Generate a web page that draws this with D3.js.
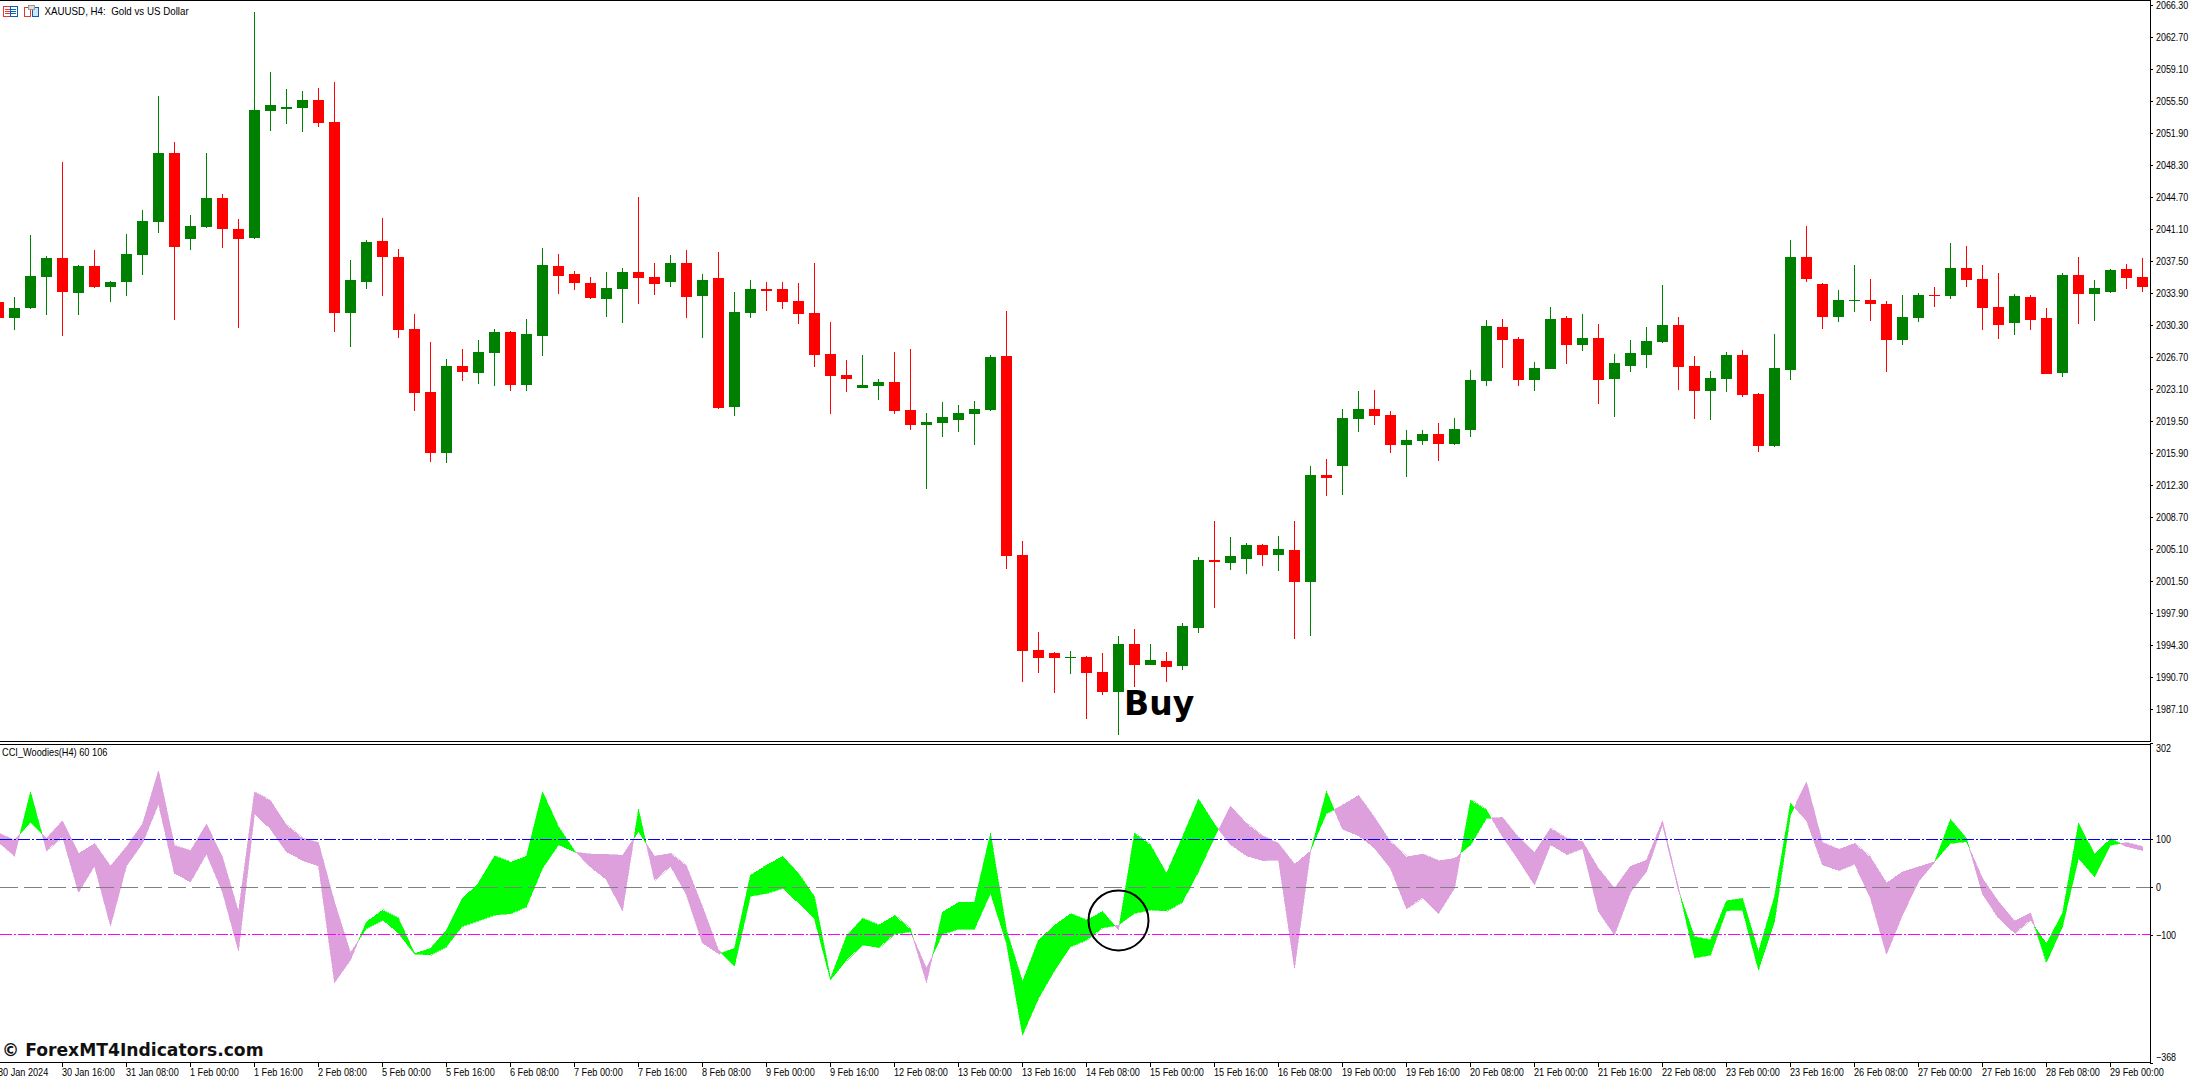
<!DOCTYPE html>
<html>
<head>
<meta charset="utf-8">
<script src="https://cdn.jsdelivr.net/npm/d3@7"></script>
<style>
  html, body { margin: 0; padding: 0; background: #fff; overflow: hidden; }
  text { font-family: "Liberation Sans", sans-serif; font-size: 10.5px; fill: #000; white-space: pre; }
  .crisp { shape-rendering: crispEdges; }
</style>
</head>
<body>
<svg id="chart" width="2190" height="1080"></svg>
<script>
var openP = [
  2032.92,2031.12,2032.25,2035.74,2037.87,2033.94,2036.97,2034.61,2035.17,2038.21,
  2041.92,2049.69,2040.01,2041.36,2044.62,2041.14,2040.12,2054.41,2054.64,2054.75,
  2055.65,2053.17,2031.69,2035.17,2039.79,2037.99,2029.89,2022.80,2015.94,2025.72,
  2024.94,2027.19,2029.55,2023.59,2029.10,2036.97,2036.07,2035.06,2033.26,2034.39,
  2036.30,2035.74,2035.17,2037.31,2033.60,2035.62,2021.10,2031.70,2034.40,2034.40,
  2033.03,2031.70,2027.08,2024.71,2023.27,2023.47,2023.91,2020.77,2019.09,2019.33,
  2019.65,2020.33,2020.77,2026.84,2004.46,1993.77,1993.45,1992.89,1992.97,1991.28,
  1989.03,1994.46,1992.09,1992.53,1991.96,1996.26,2003.90,2003.58,2004.02,2005.59,
  2004.46,2005.02,2001.41,2013.46,2014.47,2019.77,2020.89,2020.21,2016.84,2017.28,
  2018.08,2016.96,2018.52,2024.04,2030.11,2028.76,2024.15,2025.39,2031.12,2028.09,
  2028.87,2024.26,2025.72,2026.96,2028.42,2030.34,2025.72,2022.91,2024.26,2026.96,
  2022.57,2016.72,2025.27,2037.99,2034.95,2031.24,2033.04,2033.15,2032.70,2028.65,
  2031.12,2033.71,2033.60,2036.75,2035.51,2032.36,2030.56,2033.49,2031.12,2024.94,
  2035.96,2033.82,2034.05,2036.64,2035.74
];
var highP = [
  2032.92,2033.49,2040.46,2038.10,2048.67,2037.09,2038.77,2035.29,2040.57,2043.27,
  2056.10,2050.92,2042.71,2049.69,2045.07,2042.26,2065.55,2058.80,2056.89,2056.66,
  2057.00,2057.67,2037.65,2039.90,2042.37,2038.89,2031.57,2028.42,2026.51,2027.64,
  2028.65,2029.89,2029.66,2031.01,2039.00,2038.32,2036.41,2035.74,2036.30,2036.75,
  2044.74,2037.31,2038.21,2038.77,2036.07,2038.55,2034.03,2035.40,2035.16,2035.16,
  2035.08,2037.33,2030.66,2026.40,2026.96,2024.27,2027.28,2027.65,2020.45,2021.66,
  2021.34,2021.78,2026.96,2031.90,2006.03,1995.78,1993.53,1993.65,1993.09,1993.45,
  1995.34,1996.14,1994.46,1993.53,1996.83,2004.22,2008.28,2006.47,2005.83,2005.71,
  2006.59,2008.28,2014.47,2015.27,2020.89,2022.90,2023.02,2020.65,2018.52,2018.52,
  2019.33,2019.89,2025.27,2030.90,2031.01,2028.99,2026.17,2032.36,2031.35,2031.57,
  2030.45,2027.07,2028.65,2030.11,2034.84,2031.24,2026.85,2025.16,2027.30,2027.52,
  2022.69,2029.32,2039.90,2041.47,2035.06,2034.27,2037.09,2035.51,2033.04,2033.71,
  2033.94,2034.61,2039.56,2039.22,2037.09,2036.19,2033.82,2033.71,2032.25,2036.19,
  2037.99,2035.40,2036.64,2037.20,2037.87
];
var lowP = [
  2031.12,2029.77,2032.14,2031.46,2029.10,2031.46,2034.50,2032.92,2033.60,2035.96,
  2040.69,2030.90,2038.77,2041.25,2039.00,2030.00,2040.01,2052.16,2052.95,2052.05,
  2052.61,2029.55,2027.86,2034.39,2033.60,2028.87,2020.66,2014.92,2014.81,2024.04,
  2023.70,2023.47,2022.91,2022.91,2026.85,2033.82,2034.27,2033.26,2031.24,2030.56,
  2032.70,2033.71,2034.61,2031.12,2028.87,2020.89,2020.09,2031.14,2031.90,2032.15,
  2030.46,2025.60,2020.33,2022.78,2023.27,2021.90,2020.33,2018.52,2011.89,2017.72,
  2018.28,2016.84,2020.65,2002.89,1990.16,1991.20,1988.95,1991.08,1986.02,1988.71,
  1984.25,1989.59,1992.09,1990.16,1991.52,1995.70,1998.51,2002.77,2002.33,2003.22,
  2002.65,1995.02,1995.34,2011.09,2011.21,2018.28,2019.09,2015.95,2013.22,2016.84,
  2015.03,2016.84,2017.74,2023.47,2025.50,2023.47,2022.91,2025.39,2025.95,2027.41,
  2021.45,2019.99,2025.05,2025.50,2028.31,2023.02,2019.76,2019.65,2022.80,2022.24,
  2016.05,2016.61,2024.15,2035.17,2029.89,2030.67,2031.80,2030.79,2025.05,2028.09,
  2030.67,2032.36,2033.26,2034.61,2029.77,2028.76,2029.21,2029.77,2024.82,2024.49,
  2030.45,2030.79,2033.94,2034.39,2034.05
];
var closeP = [
  2031.12,2032.25,2035.85,2037.87,2034.05,2036.97,2034.61,2035.17,2038.32,2042.04,
  2049.69,2039.11,2041.47,2044.62,2041.14,2040.01,2054.52,2055.09,2054.86,2055.65,
  2053.06,2031.69,2035.40,2039.67,2037.99,2029.77,2022.69,2015.94,2025.72,2025.05,
  2027.30,2029.55,2023.59,2029.32,2037.09,2035.85,2035.06,2033.37,2034.50,2036.30,
  2035.62,2034.95,2037.31,2033.49,2035.40,2021.00,2031.78,2034.40,2034.15,2032.91,
  2031.58,2026.96,2024.59,2024.27,2023.59,2023.91,2020.65,2019.09,2019.41,2019.97,
  2020.45,2020.89,2026.72,2004.34,1993.65,1992.89,1992.89,1992.97,1991.20,1989.03,
  1994.46,1992.09,1992.65,1991.84,1996.47,2003.90,2003.66,2004.34,2005.59,2004.46,
  2005.14,2001.41,2013.46,2013.14,2019.89,2020.89,2020.09,2016.84,2017.40,2018.08,
  2016.96,2018.64,2024.15,2030.22,2028.65,2024.15,2025.50,2031.01,2028.09,2028.87,
  2024.15,2026.06,2027.19,2028.54,2030.34,2025.61,2022.91,2024.37,2026.96,2022.46,
  2016.72,2025.50,2037.99,2035.51,2031.24,2033.15,2033.15,2032.70,2028.65,2031.24,
  2033.71,2033.60,2036.75,2035.40,2032.25,2030.34,2033.60,2030.90,2024.82,2035.96,
  2033.82,2034.50,2036.52,2035.62,2034.61
];

var cciFast = [
  93.7,65.0,199.9,76.2,105.5,-11.2,44.0,-81.8,44.0,91.6,
  174.1,27.3,10.5,69.2,-10.5,-134.2,153.1,120.9,73.4,55.2,
  44.0,-200.6,-153.1,-72.7,-48.2,-65.7,-139.1,-128.6,-90.2,-23.8,
  9.1,65.0,52.4,65.0,199.9,126.5,76.2,41.2,14.7,-50.3,
  162.9,14.0,44.0,-16.8,-118.1,-140.5,-128.6,25.2,46.1,65.0,
  28.7,-20.3,-191.5,-102.8,-65.7,-79.7,-59.4,-88.8,-200.6,-52.4,
  -31.5,-31.5,112.5,-90.2,-198.5,-111.1,-79.7,-55.9,-69.2,-51.0,
  -90.2,112.5,88.1,28.7,105.5,184.5,132.1,88.1,65.0,55.2,
  56.6,-170.6,74.1,200.6,120.9,106.9,81.1,39.1,-45.4,-22.4,
  -55.9,-2.8,182.4,161.5,105.5,56.6,4.2,88.1,67.8,81.1,
  -51.7,-100.7,-11.2,32.2,130.0,-7.7,-104.2,-111.1,-28.7,-23.8,
  -135.6,-20.3,175.4,139.1,46.1,34.3,48.2,-23.8,-141.2,-58.7,
  11.2,51.7,141.9,102.1,-14.7,-65.7,-97.2,-69.2,-118.1,-55.2,
  133.5,69.2,101.4,84.6,76.2
];
var cciSlow = [
  113.2,98.6,135.6,102.1,139.1,70.6,91.6,44.0,84.6,132.1,
  244.0,86.7,76.2,132.1,62.2,-51.7,199.2,181.0,130.0,102.1,
  93.0,-31.5,-137.7,-86.7,-69.2,-97.2,-140.5,-142.6,-125.1,-81.8,
  -70.6,-58.7,-55.9,-41.2,39.1,88.1,73.4,69.2,68.5,66.4,
  116.0,65.0,70.6,44.0,-41.2,-132.1,-165.7,-18.9,-13.3,-2.8,
  -34.3,-67.1,-195.0,-153.1,-121.6,-127.2,-98.6,-93.7,-170.6,-98.6,
  -88.1,-88.1,-13.3,-118.1,-310.4,-233.5,-175.4,-125.1,-111.1,-85.3,
  -79.7,-55.2,-48.2,-50.3,-31.5,32.2,104.2,169.9,133.5,106.9,
  91.6,48.2,76.2,154.5,172.0,192.9,146.1,95.1,63.6,69.2,
  55.2,60.1,88.1,144.0,146.1,104.2,72.7,123.0,102.1,95.1,
  39.1,-2.8,44.0,56.6,138.4,-0.7,-148.2,-142.6,-49.6,-48.2,
  -174.1,-72.7,151.0,220.9,93.0,79.0,91.6,62.2,9.1,32.2,
  42.6,53.1,91.6,95.1,18.2,-30.8,-70.6,-53.8,-158.0,-83.2,
  60.1,21.7,88.1,93.0,84.6
];

var priceTicks = [2066.30,2062.70,2059.10,2055.50,2051.90,2048.30,2044.70,2041.10,2037.50,2033.90,2030.30,2026.70,
  2023.10,2019.50,2015.90,2012.30,2008.70,2005.10,2001.50,1997.90,1994.30,1990.70,1987.10];
var cciTicks = [302,100,0,-100,-368];
var timeLabels = ["30 Jan 2024","30 Jan 16:00","31 Jan 08:00","1 Feb 00:00","1 Feb 16:00","2 Feb 08:00","5 Feb 00:00",
  "5 Feb 16:00","6 Feb 08:00","7 Feb 00:00","7 Feb 16:00","8 Feb 08:00","9 Feb 00:00","9 Feb 16:00","12 Feb 08:00",
  "13 Feb 00:00","13 Feb 16:00","14 Feb 08:00","15 Feb 00:00","15 Feb 16:00","16 Feb 08:00","19 Feb 00:00","19 Feb 16:00",
  "20 Feb 08:00","21 Feb 00:00","21 Feb 16:00","22 Feb 08:00","23 Feb 00:00","23 Feb 16:00","26 Feb 08:00","27 Feb 00:00",
  "27 Feb 16:00","28 Feb 08:00","29 Feb 00:00"];
var levels = [
  {v: 100, color: "#0000ff", dash: "12,2,2,2"},
  {v: 0, color: "#808080", dash: "18,6"},
  {v: -100, color: "#ff00ff", dash: "12,2,2,2"}
];
var labelStep = 4; // a time label every 4 bars

var svg = d3.select("#chart");
var plotRight = 2150;

var x = d3.scaleLinear().domain([0, 134]).range([-1.5, 2142.5]);
var y = d3.scaleLinear().domain([2066.3, 1987.1]).range([5.3, 709.3]);
var yCci = d3.scaleLinear().domain([302, -368]).range([743, 1062.5]);

// terminal font is narrower than Liberation, squeeze text about its left edge
function narrow(sel, ratio) {
  sel.each(function () {
    var x0 = +this.getAttribute("x") || 0;
    this.setAttribute("transform", "translate(" + x0 * (1 - ratio) + ",0) scale(" + ratio + ",1)");
  });
}

// candles
var bars = d3.range(openP.length);
var candles = svg.append("g").attr("class", "crisp").selectAll("g").data(bars).join("g")
  .attr("fill", function (i) { return closeP[i] >= openP[i] ? "#008000" : "#ff0000"; });
candles.append("rect")
  .attr("x", function (i) { return x(i) - 0.5; })
  .attr("width", 1)
  .attr("y", function (i) { return y(highP[i]); })
  .attr("height", function (i) { return y(lowP[i]) - y(highP[i]); });
candles.append("rect")
  .attr("x", function (i) { return x(i) - 5.5; })
  .attr("width", 11)
  .attr("y", function (i) { return y(Math.max(openP[i], closeP[i])); })
  .attr("height", function (i) { return Math.max(1, Math.abs(y(openP[i]) - y(closeP[i]))); });

// CCI band, split where the fast and slow lines cross
var runs = [];
var run = null;
bars.forEach(function (i) {
  var up = cciFast[i] >= cciSlow[i];
  if (run && run.up !== up) {
    var d0 = cciFast[i - 1] - cciSlow[i - 1];
    var d1 = cciFast[i] - cciSlow[i];
    var t = d0 / (d0 - d1);
    var cross = {i: i - 1 + t, a: cciFast[i - 1] + t * (cciFast[i] - cciFast[i - 1])};
    cross.b = cross.a;
    run.pts.push(cross);
    runs.push(run);
    run = {up: up, pts: [cross]};
  }
  if (!run) run = {up: up, pts: []};
  run.pts.push({i: i, a: cciFast[i], b: cciSlow[i]});
});
runs.push(run);

var band = d3.area()
  .x(function (d) { return x(d.i); })
  .y0(function (d) { return yCci(d.a); })
  .y1(function (d) { return yCci(d.b); });

svg.append("g").attr("class", "crisp").selectAll("path").data(runs).join("path")
  .attr("fill", function (d) { return d.up ? "#00ff00" : "#dda0dd"; })
  .attr("stroke", function (d) { return d.up ? "#00ff00" : "#dda0dd"; })
  .attr("stroke-width", 0.6)
  .attr("d", function (d) { return band(d.pts); });

// level lines, snapped to a pixel row so the dashes stay solid
function levelY(d) { return Math.floor(yCci(d.v)) + 0.5; }
svg.append("g").selectAll("line").data(levels).join("line")
  .attr("x1", 0)
  .attr("x2", plotRight)
  .attr("y1", levelY)
  .attr("y2", levelY)
  .attr("stroke", function (d) { return d.color; })
  .attr("stroke-dasharray", function (d) { return d.dash; });

// frame
var frame = svg.append("g").attr("class", "crisp").attr("stroke", "#000");
frame.append("line").attr("x1", 0).attr("x2", plotRight + 0.5).attr("y1", 0.5).attr("y2", 0.5);
frame.append("line").attr("x1", 0).attr("x2", plotRight + 0.5).attr("y1", 741.5).attr("y2", 741.5);
frame.append("line").attr("x1", 0).attr("x2", plotRight + 0.5).attr("y1", 744.5).attr("y2", 744.5);
frame.append("line").attr("x1", 0).attr("x2", plotRight + 0.5).attr("y1", 1062.5).attr("y2", 1062.5);
frame.append("line").attr("x1", plotRight + 0.5).attr("x2", plotRight + 0.5).attr("y1", 0).attr("y2", 741);
frame.append("line").attr("x1", plotRight + 0.5).attr("x2", plotRight + 0.5).attr("y1", 744).attr("y2", 1063);

// axes
var priceAxis = svg.append("g")
  .attr("transform", "translate(" + plotRight + ",0)")
  .call(d3.axisRight(y).tickValues(priceTicks).tickSize(3).tickPadding(3)
    .tickFormat(d3.format(".2f")));
var cciAxis = svg.append("g")
  .attr("transform", "translate(" + plotRight + ",0)")
  .call(d3.axisRight(yCci).tickValues(cciTicks).tickSize(3).tickPadding(3).tickFormat(d3.format("d")));
cciAxis.selectAll(".tick").filter(function (d) { return d === 302; }).select("text").attr("y", 5);
cciAxis.selectAll(".tick").filter(function (d) { return d === -368; }).select("text").attr("y", -5);

var timeAxis = svg.append("g")
  .attr("transform", "translate(0,1062)")
  .call(d3.axisBottom(x)
    .tickValues(timeLabels.map(function (d, k) { return k * labelStep; }))
    .tickSize(5).tickPadding(2).offset(0)
    .tickFormat(function (d) { return timeLabels[d / labelStep]; }));
timeAxis.selectAll("text").attr("text-anchor", "start").attr("x", -0.5);

[priceAxis, cciAxis, timeAxis].forEach(function (g) {
  g.select(".domain").remove();
  g.attr("font-family", null).attr("font-size", null);
  g.selectAll(".tick line").attr("stroke", "#000").attr("class", "crisp");
  g.selectAll("text").call(narrow, g === timeAxis ? 0.87 : 0.85);
});

// header and indicator captions
svg.append("text").attr("x", 44.5).attr("y", 15).text("XAUUSD, H4:  Gold vs US Dollar").call(narrow, 0.93);
svg.append("text").attr("x", 2).attr("y", 756.5).text("CCI_Woodies(H4) 60 106").call(narrow, 0.88);

// terminal icons
var icons = svg.append("g").attr("class", "crisp").attr("fill", "none");
icons.append("rect").attr("x", 3.5).attr("y", 6.5).attr("width", 7).attr("height", 9.5).attr("stroke", "#e8352e");
icons.append("rect").attr("x", 10.5).attr("y", 6.5).attr("width", 6.5).attr("height", 9.5).attr("stroke", "#0a5fb4");
[9.5, 11.5, 13.5].forEach(function (r) {
  icons.append("line").attr("x1", 5).attr("x2", 10).attr("y1", r).attr("y2", r).attr("stroke", "#e8352e");
  icons.append("line").attr("x1", 11).attr("x2", 16).attr("y1", r).attr("y2", r).attr("stroke", "#0a5fb4");
});
icons.append("rect").attr("x", 24.5).attr("y", 7.5).attr("width", 6).attr("height", 9).attr("stroke", "#e8352e");
icons.append("rect").attr("x", 32.5).attr("y", 7.5).attr("width", 6).attr("height", 9).attr("stroke", "#0a5fb4").attr("fill", "#cfe4f7");
icons.append("rect").attr("x", 28.5).attr("y", 5.5).attr("width", 6).attr("height", 4).attr("stroke", "#999").attr("fill", "#ddd");

// annotations pasted on the screenshot
svg.append("circle")
  .attr("cx", x(70))
  .attr("cy", yCci(-70))
  .attr("r", 30)
  .attr("fill", "none")
  .attr("stroke", "#000")
  .attr("stroke-width", 2);
svg.append("text")
  .attr("x", x(70) + 5.5)
  .attr("y", y(1984.25) - 20)
  .attr("style", "font-family:'DejaVu Sans';font-weight:bold;font-size:33px")
  .text("Buy");
svg.append("text")
  .attr("x", 2)
  .attr("y", 1056.5)
  .attr("style", "font-family:'DejaVu Sans';font-weight:bold;font-size:18px;fill:#111")
  .text("\u00a9 ForexMT4Indicators.com")
  .call(narrow, 0.955);
</script>
</body>
</html>
